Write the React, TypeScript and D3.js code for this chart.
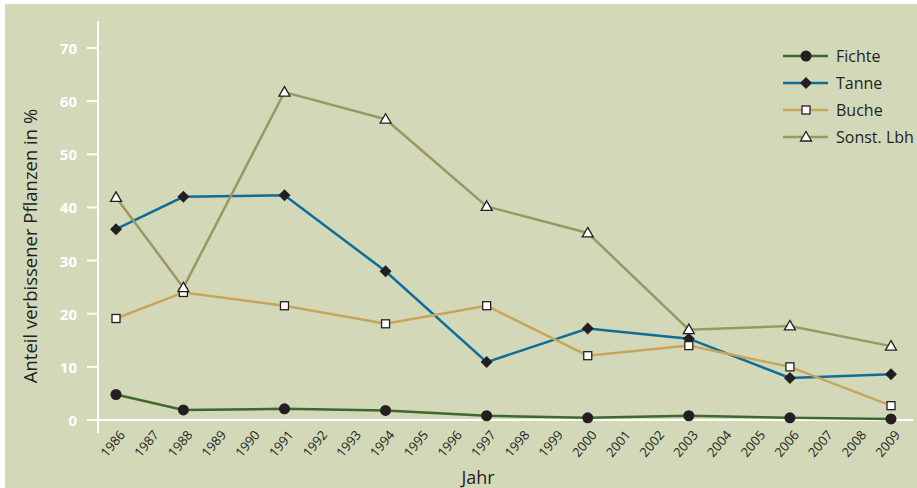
import { useRef, useEffect } from 'react';
import * as d3 from 'd3';

const years = d3.range(1986, 2010);
const sampleYears = [1986, 1988, 1991, 1994, 1997, 2000, 2003, 2006, 2009];
const fichte = [4.8, 1.9, 2.1, 1.8, 0.8, 0.4, 0.8, 0.4, 0.2];
const tanne = [35.9, 42.0, 42.3, 28.0, 10.9, 17.2, 15.3, 7.9, 8.6];
const buche = [19.1, 24.0, 21.5, 18.1, 21.5, 12.1, 14.0, 10.0, 2.7];
const sonstLbh = [41.9, 24.9, 61.7, 56.6, 40.2, 35.2, 17.0, 17.7, 13.9];
const yTicks = [0, 10, 20, 30, 40, 50, 60, 70];

const seriesList = [
  { name: 'Fichte', values: fichte, color: '#3c6a2c', marker: 'circle' },
  { name: 'Tanne', values: tanne, color: '#0e6d99', marker: 'diamond' },
  { name: 'Buche', values: buche, color: '#c8a55c', marker: 'square' },
  { name: 'Sonst. Lbh', values: sonstLbh, color: '#9a9762', marker: 'triangle' },
];

const width = 917;
const height = 488;
const font = '"Open Sans", "DejaVu Sans", sans-serif';
const ink = '#231f20';

const drawMarker = (g: any, kind: string, x: number, y: number) => {
  if (kind === 'circle') {
    g.append('circle').attr('cx', x).attr('cy', y).attr('r', 5.5).attr('fill', ink);
  } else if (kind === 'diamond') {
    const s = 6;
    g.append('path')
      .attr('d', `M${x},${y - s}L${x + s},${y}L${x},${y + s}L${x - s},${y}Z`)
      .attr('fill', ink);
  } else if (kind === 'square') {
    g.append('rect')
      .attr('x', x - 4).attr('y', y - 4)
      .attr('width', 8).attr('height', 8)
      .attr('fill', '#fff').attr('stroke', ink).attr('stroke-width', 1.3);
  } else {
    g.append('path')
      .attr('d', `M${x},${y - 5.5}L${x + 5.5},${y + 4}L${x - 5.5},${y + 4}Z`)
      .attr('fill', '#fff').attr('stroke', ink).attr('stroke-width', 1.3);
  }
};

const App = () => {
  const svgRef = useRef<SVGSVGElement>(null);

  useEffect(() => {
    if (!svgRef.current) return;
    const svg = d3.select(svgRef.current);
    svg.selectAll('*').remove();

    const x = d3.scaleLinear().domain([1986, 2009]).range([116, 891]);
    const y = d3.scaleLinear().domain([0, 70]).range([420, 48]);

    // Background
    svg.append('rect').attr('width', width).attr('height', height).attr('fill', '#fff');
    svg.append('rect')
      .attr('x', 5).attr('y', 4)
      .attr('width', width - 5).attr('height', height - 4)
      .attr('fill', '#d3d9b8');

    // Axes
    svg.append('line')
      .attr('x1', 98).attr('x2', 98).attr('y1', 21).attr('y2', 433)
      .attr('stroke', '#fff').attr('stroke-width', 2);
    svg.append('line')
      .attr('x1', 92).attr('x2', 913).attr('y1', y(0)).attr('y2', y(0))
      .attr('stroke', '#fff').attr('stroke-width', 2);

    yTicks.forEach((t) => {
      svg.append('line')
        .attr('x1', 87).attr('x2', 98).attr('y1', y(t)).attr('y2', y(t))
        .attr('stroke', '#fff').attr('stroke-width', 2);
      svg.append('text')
        .attr('x', 77).attr('y', y(t))
        .attr('text-anchor', 'end')
        .attr('dominant-baseline', 'central')
        .attr('font-family', font).attr('font-size', '15px').attr('font-weight', 'bold')
        .attr('fill', '#fff')
        .text(t);
    });

    years.forEach((yr) => {
      svg.append('text')
        .attr('transform', `translate(${x(yr) + 6},${y(0) + 12}) rotate(-50)`)
        .attr('text-anchor', 'end')
        .attr('dominant-baseline', 'central')
        .attr('font-family', font).attr('font-size', '13px')
        .attr('fill', ink)
        .text(yr);
    });

    // Axis titles
    svg.append('text')
      .attr('transform', `translate(37,246) rotate(-90)`)
      .attr('text-anchor', 'middle')
      .attr('font-family', font).attr('font-size', '18.5px')
      .attr('fill', ink)
      .text('Anteil verbissener Pflanzen in %');
    svg.append('text')
      .attr('x', 478).attr('y', 484)
      .attr('text-anchor', 'middle')
      .attr('font-family', font).attr('font-size', '18px')
      .attr('fill', ink)
      .text('Jahr');

    // Lines
    const line = d3.line<number>()
      .x((_, i) => x(sampleYears[i]))
      .y((d) => y(d));

    seriesList.forEach((s) => {
      svg.append('path')
        .attr('d', line(s.values))
        .attr('fill', 'none')
        .attr('stroke', s.color)
        .attr('stroke-width', 2.5);
    });
    seriesList.forEach((s) => {
      const g = svg.append('g');
      s.values.forEach((v, i) => drawMarker(g, s.marker, x(sampleYears[i]), y(v)));
    });

    // Legend
    seriesList.forEach((s, i) => {
      const ly = 56 + i * 27;
      const g = svg.append('g');
      g.append('line')
        .attr('x1', 783).attr('x2', 828).attr('y1', ly).attr('y2', ly)
        .attr('stroke', s.color).attr('stroke-width', 2.5);
      drawMarker(g, s.marker, 806, ly);
      g.append('text')
        .attr('x', 836).attr('y', ly)
        .attr('dominant-baseline', 'central')
        .attr('font-family', font).attr('font-size', '16px')
        .attr('fill', ink)
        .text(s.name);
    });
  }, []);

  return (
    <svg
      ref={svgRef}
      width={width}
      height={height}
      style={{ position: 'absolute', left: 0, top: 0, display: 'block' }}
    />
  );
};

export default App;
